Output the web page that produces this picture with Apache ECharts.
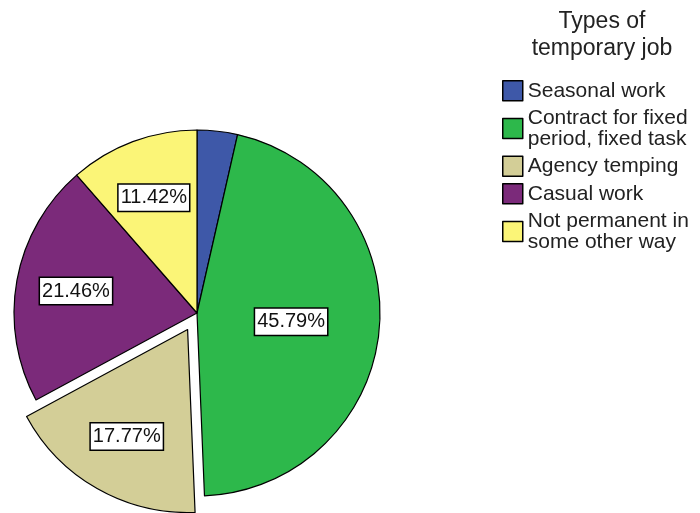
<!DOCTYPE html>
<html>
<head>
<meta charset="utf-8">
<script src="https://cdn.jsdelivr.net/npm/echarts@6/dist/echarts.min.js"></script>
<style>
  html, body { margin: 0; padding: 0; background: #fff; }
  #pieOne { width: 700px; height: 513px; }
</style>
</head>
<body>
<div id="pieOne"></div>
<script>
// categories (legend order = slice order, clockwise from 12 o'clock)
var jobTypes = [
  "Seasonal work",
  "Contract for fixed\nperiod, fixed task",
  "Agency temping",
  "Casual work",
  "Not permanent in\nsome other way"
];
// percent of respondents
var jobShare = [3.56, 45.79, 17.77, 21.46, 11.42];
var sliceColors = ["#3e58a8", "#2db84b", "#d3ce97", "#7b2a7a", "#fbf577"];
var explodedName = "Agency temping";
// which slices get their label on the inner ring vs the outer one
var innerLabels = ["Contract for fixed\nperiod, fixed task"];
var outerLabels = ["Agency temping", "Casual work", "Not permanent in\nsome other way"];

var chart = echarts.init(document.getElementById("pieOne"));

var labelBox = {
  position: "inside",
  formatter: function (p) {
    return p.value.toFixed(2) + "%";
  },
  fontFamily: "Liberation Sans",
  fontSize: 20,
  lineHeight: 20,
  color: "#111",
  backgroundColor: "#fff",
  borderColor: "#000",
  borderWidth: 1.5,
  padding: [3, 2, 3, 2]
};

function buildData(showList, visible) {
  var out = [];
  for (var i = 0; i < jobTypes.length; i++) {
    out.push({
      name: jobTypes[i],
      value: jobShare[i],
      selected: jobTypes[i] === explodedName,
      itemStyle: visible
        ? { color: sliceColors[i], borderColor: "#000", borderWidth: 1.2 }
        : { color: "rgba(0,0,0,0)", borderWidth: 0 },
      label: { show: showList.indexOf(jobTypes[i]) >= 0 }
    });
  }
  return out;
}

var option = {
  animation: false,
  title: {
    text: "Types of\ntemporary job",
    left: 597,
    top: 3,
    textAlign: "center",
    textStyle: {
      fontFamily: "Liberation Sans",
      fontSize: 23,
      lineHeight: 27,
      fontWeight: "normal",
      color: "#222",
      align: "center"
    }
  },
  legend: {
    orient: "vertical",
    left: 497,
    top: 75,
    icon: "rect",
    itemWidth: 20,
    itemHeight: 20,
    itemGap: 6,
    selectedMode: false,
    data: jobTypes,
    itemStyle: { borderColor: "#000", borderWidth: 1.5 },
    textStyle: {
      fontFamily: "Liberation Sans",
      fontSize: 21,
      lineHeight: 21,
      color: "#222"
    }
  },
  series: [
    {
      name: "slices",
      type: "pie",
      center: [197, 313],
      radius: 183,
      startAngle: 90,
      clockwise: true,
      selectedMode: "single",
      selectedOffset: 19,
      emphasis: { disabled: true },
      labelLine: { show: false },
      label: labelBox,
      data: buildData(innerLabels, true)
    },
    {
      // transparent copy, only used to put the other labels further out
      name: "labels",
      type: "pie",
      center: [197, 313],
      radius: [57, 183],
      startAngle: 90,
      clockwise: true,
      silent: true,
      selectedMode: "single",
      selectedOffset: 19,
      emphasis: { disabled: true },
      labelLine: { show: false },
      label: labelBox,
      data: buildData(outerLabels, false)
    }
  ]
};
chart.setOption(option);
</script>
</body>
</html>
